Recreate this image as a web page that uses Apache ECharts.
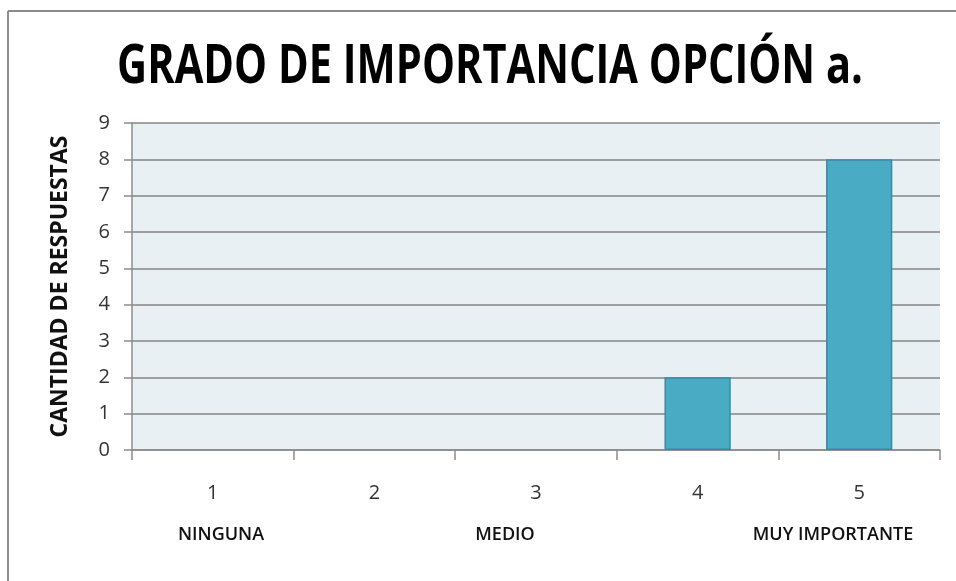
<!DOCTYPE html>
<html>
<head>
<meta charset="utf-8">
<script src="https://cdn.jsdelivr.net/npm/echarts@6/dist/echarts.min.js"></script>
<style>
    html, body { margin: 0; padding: 0; background: #fff; }
    #chart { width: 956px; height: 581px; }
</style>
</head>
<body>
<div id="chart"></div>
<script>
// Chart data
const categories = ['1', '2', '3', '4', '5'];
const respuestas = [0, 0, 0, 2, 8];
const yTicks = [0, 1, 2, 3, 4, 5, 6, 7, 8, 9];
const scaleNotes = ['NINGUNA', 'MEDIO', 'MUY IMPORTANTE'];

const chart = echarts.init(document.getElementById('chart'));

const axisGray = '#8c8c8c';
const font = 'Open Sans';

// zero bars get no outline, otherwise a line shows on the axis
const barData = respuestas.map(v => ({
    value: v,
    itemStyle: v ? {} : { borderWidth: 0 }
}));

function noteText(x, text) {
    return {
        type: 'text', x: x, y: 535,
        style: {
            text: text, fill: '#111', font: '600 18px "Open Sans"',
            textAlign: 'center', textVerticalAlign: 'middle'
        }
    };
}

const option = {
    backgroundColor: '#fff',
    animation: false,
    grid: {
        left: 132, right: 16, top: 123, bottom: 131,
        show: true,
        backgroundColor: '#e9f0f4',
        borderWidth: 0
    },
    xAxis: {
        type: 'category',
        data: categories,
        axisLine: { show: true, lineStyle: { color: axisGray, width: 1.5 } },
        axisTick: { show: true, length: 10, lineStyle: { color: axisGray, width: 1.5 } },
        axisLabel: { color: '#333', fontSize: 20, fontFamily: font, margin: 33 }
    },
    yAxis: {
        type: 'value',
        min: yTicks[0],
        max: yTicks[yTicks.length - 1],
        interval: 1,
        name: 'CANTIDAD DE RESPUESTAS',
        nameLocation: 'middle',
        nameGap: 60,
        nameRotate: 90,
        nameTextStyle: { color: '#111', fontSize: 23, fontWeight: 'bold', fontFamily: font },
        axisLine: { show: true, lineStyle: { color: axisGray, width: 1.5 } },
        axisTick: { show: true, length: 8, lineStyle: { color: axisGray, width: 1.5 } },
        axisLabel: { color: '#333', fontSize: 20, fontFamily: font, margin: 22 },
        splitLine: { show: true, lineStyle: { color: '#858585', width: 1.5 } }
    },
    series: [{
        type: 'bar',
        data: barData,
        barWidth: '41%',
        itemStyle: { color: '#4aabc5', borderColor: '#3a8aa0', borderWidth: 1.5 }
    }],
    graphic: [
        // outer frame (top and left edges visible)
        { type: 'line', shape: { x1: 8, y1: 11, x2: 956, y2: 11 }, style: { stroke: '#8c8c8c', lineWidth: 2 } },
        { type: 'line', shape: { x1: 8, y1: 11, x2: 8, y2: 581 }, style: { stroke: '#8c8c8c', lineWidth: 2 } },
        {
            type: 'text', x: 490, y: 68, scaleX: 0.77, originX: 0,
            style: {
                text: 'GRADO DE IMPORTANCIA OPCIÓN a.',
                fill: '#000', font: 'bold 54px "Open Sans"',
                textAlign: 'center', textVerticalAlign: 'middle'
            }
        },
        noteText(221, scaleNotes[0]),
        noteText(505, scaleNotes[1]),
        noteText(833, scaleNotes[2])
    ]
};

chart.setOption(option);
</script>
</body>
</html>
